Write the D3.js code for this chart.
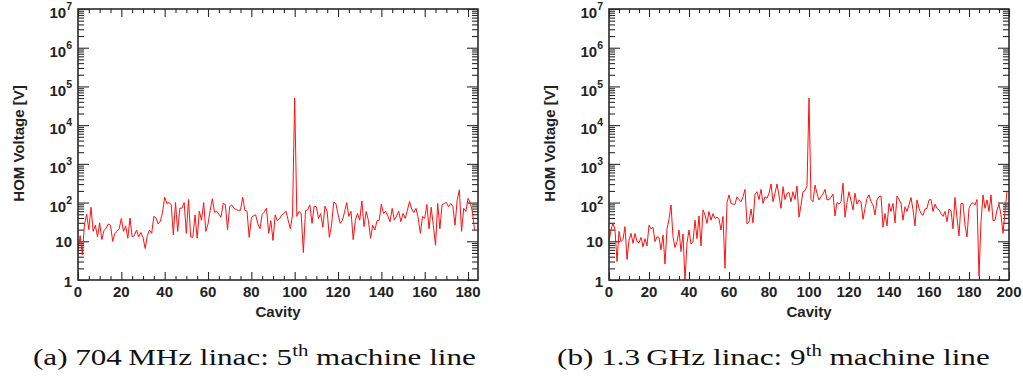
<!DOCTYPE html>
<html><head><meta charset="utf-8">
<script src="https://cdn.jsdelivr.net/npm/d3@7/dist/d3.min.js"></script>
<style>body{margin:0;background:#fff}svg{display:block}</style>
</head><body>
<svg id="chart" width="1023" height="381"></svg>
<script>
// HOM voltage [V] per cavity, 704 MHz linac (5th machine line), cavity index = array index
const voltage704 = [5.4,14,4.5,28,50,20,76,18,26,13,30,11,19,22,28,26,10,16,18,21,
39,18,25,12,40,13,14,19.5,13,17,12.6,6.5,14,19.5,16,44,40,28,33,56,
138,95,100,89,14.5,100,18,71,72,100,16,120,13,12.6,48,12,60,35,100,18,
28,63,126,56,60,50,42,95,89,20,79,87,71,66,63,63,138,63,60,12.6,
40,46,48,28,21,50,57,71,16,34,10.5,48,34,38,48,52,60,35,21,48,
50000,44,59,52,5.1,62,65,87,29,81,78,39,52,23,81,59,12.6,26,102,95,
50,29,35,56,100,44,59,11,35,52,35,110,24,59,35,12,26,19.5,34,35,
91,52,59,45,32,71,35,44,60,32,52,39,63,107,68,55,71,40,16,44,
39,89,21,76,25,7.9,95,21,87,95,100,78,95,79,26,117,214,18,71,59,
129,100,59,19.5];
// HOM voltage [V] per cavity, 1.3 GHz linac (9th machine line)
const voltage1300 = [9.8,19.5,30,19.5,3.0,18,9.8,11.2,24,3.4,10.7,16,8.9,16,9.8,9.1,12.6,7.2,11.7,7.6,
26,21,23,9.8,13,12.6,6,14.5,2.6,21,37,87,13,6.9,9.8,19.5,5.4,15.5,0.95,9.1,
19.5,8.5,9.8,35,11.7,45,7.6,65,48,29,59,35,52,39,42,37,19.5,44,2.0,100,
158,95,91,91,141,120,105,141,219,28,32,68,30,166,191,120,219,95,141,129,
174,302,105,174,302,148,71,257,120,174,182,105,191,120,269,42,87,191,204,269,
50000,120,105,282,174,117,141,166,219,117,120,135,166,45,100,91,105,316,42,100,
191,112,65,174,91,117,105,37,71,129,158,105,87,48,117,141,148,23,52,25,
95,59,95,30,148,120,95,35,78,59,87,135,65,25,117,71,52,47,68,71,
117,120,59,91,71,65,52,44,59,32,68,62,21,135,39,13.8,95,95,26,13,
71,91,100,87,120,1.26,32,158,71,117,59,158,34,35,65,91,48,16,59,195];

const xTickLabels704 = [0,20,40,60,80,100,120,140,160,180];
const xTickLabels1300 = [0,20,40,60,80,100,120,140,160,180,200];
const yTickExponents = [0,1,2,3,4,5,6,7];
const yAxisTitle = "HOM Voltage [V]";
const xAxisTitle = "Cavity";
const captionParts = [
  ["(a) 704\u2009MHz linac: 5", "th", " machine line"],
  ["(b) 1.3\u2009GHz linac: 9", "th", " machine line"]
];

const svg = d3.select("#chart");
const TOP = 9, BOTTOM = 280;
const FONT = "'Liberation Sans', Arial, Helvetica, sans-serif";
const AX = "#2a2a2a";

const panels = [
  {x0: 78, x1: 478, xMax: 184.6, data: voltage704, ticks: xTickLabels704, cap: captionParts[0], capX: 33, capW: 443},
  {x0: 609, x1: 1009, xMax: 200, data: voltage1300, ticks: xTickLabels1300, cap: captionParts[1], capX: 557, capW: 433}
];

const y = d3.scaleLog().domain([1, 1e7]).range([BOTTOM, TOP]);
const yMajor = yTickExponents.map(k => Math.pow(10, k));
const yMinor = [];
yTickExponents.slice(0, -1).forEach(k => { for (let m = 2; m <= 9; m++) yMinor.push(m * Math.pow(10, k)); });

panels.forEach((p, pi) => {
  const g = svg.append("g");
  const x = d3.scaleLinear().domain([0, p.xMax]).range([p.x0, p.x1]);
  const xMinor = d3.range(0, p.xMax, 5).filter(v => v % 20 !== 0);

  const styleAxis = sel => {
    sel.select(".domain").remove();
    sel.selectAll("line").attr("stroke", AX).attr("stroke-width", 1.1);
  };
  // y axes (ticks pointing inward)
  g.append("g").attr("transform", `translate(${p.x0},0)`).call(d3.axisRight(y).tickValues(yMajor).tickSize(11).tickFormat("")).call(styleAxis);
  g.append("g").attr("transform", `translate(${p.x0},0)`).call(d3.axisRight(y).tickValues(yMinor).tickSize(6).tickFormat("")).call(styleAxis);
  g.append("g").attr("transform", `translate(${p.x1},0)`).call(d3.axisLeft(y).tickValues(yMajor).tickSize(11).tickFormat("")).call(styleAxis);
  g.append("g").attr("transform", `translate(${p.x1},0)`).call(d3.axisLeft(y).tickValues(yMinor).tickSize(6).tickFormat("")).call(styleAxis);
  // x axes
  g.append("g").attr("transform", `translate(0,${BOTTOM})`).call(d3.axisTop(x).tickValues(p.ticks).tickSize(8).tickFormat("")).call(styleAxis);
  g.append("g").attr("transform", `translate(0,${BOTTOM})`).call(d3.axisTop(x).tickValues(xMinor).tickSize(4).tickFormat("")).call(styleAxis);
  g.append("g").attr("transform", `translate(0,${TOP})`).call(d3.axisBottom(x).tickValues(p.ticks).tickSize(8).tickFormat("")).call(styleAxis);
  g.append("g").attr("transform", `translate(0,${TOP})`).call(d3.axisBottom(x).tickValues(xMinor).tickSize(4).tickFormat("")).call(styleAxis);

  // data line
  const clipId = "clip" + pi;
  svg.append("clipPath").attr("id", clipId).append("rect")
    .attr("x", p.x0).attr("y", TOP).attr("width", p.x1 - p.x0).attr("height", BOTTOM - TOP);
  const line = d3.line().x((d, i) => x(i)).y(d => y(d));
  g.append("path").datum(p.data).attr("d", line).attr("fill", "none")
    .attr("stroke", "#ff1010").attr("stroke-width", 1).attr("stroke-linejoin", "miter")
    .attr("clip-path", `url(#${clipId})`);

  // frame
  g.append("rect").attr("x", p.x0).attr("y", TOP).attr("width", p.x1 - p.x0).attr("height", BOTTOM - TOP)
    .attr("fill", "none").attr("stroke", AX).attr("stroke-width", 1.6);

  // y tick labels
  yTickExponents.forEach(k => {
    const t = g.append("text").attr("x", p.x0 - 6).attr("text-anchor", "end")
      .attr("font-family", FONT).attr("font-weight", "bold").attr("font-size", 15).attr("fill", "#222");
    if (k === 0) { t.attr("y", y(1) + 7).text("1"); }
    else if (k === 1) { t.attr("y", y(10) + 5.5).text("10"); }
    else {
      t.attr("y", y(Math.pow(10, k)) + 9.3);
      t.append("tspan").text("10");
      t.append("tspan").attr("dy", -8).attr("font-size", 10.5).text(String(k));
    }
  });
  // x tick labels
  g.selectAll(".xl").data(p.ticks).join("text").attr("class", "xl")
    .attr("x", d => x(d)).attr("y", 297).attr("text-anchor", "middle")
    .attr("font-family", FONT).attr("font-weight", "bold").attr("font-size", 15).attr("fill", "#222")
    .text(d => d);
  // axis titles
  g.append("text").attr("x", (p.x0 + p.x1) / 2).attr("y", 317).attr("text-anchor", "middle")
    .attr("font-family", FONT).attr("font-weight", "bold").attr("font-size", 15).attr("fill", "#222")
    .text(xAxisTitle);
  g.append("text").attr("transform", `translate(${p.x0 - 54},${(TOP + BOTTOM) / 2 - 1}) rotate(-90)`)
    .attr("text-anchor", "middle")
    .attr("font-family", FONT).attr("font-weight", "bold").attr("font-size", 15).attr("fill", "#222")
    .text(yAxisTitle);

  // caption
  const cg = svg.append("g");
  const ct = cg.append("text").attr("x", 0).attr("y", 0)
    .attr("font-family", "'Liberation Serif', 'Times New Roman', serif").attr("font-size", 24).attr("fill", "#111");
  ct.append("tspan").text(p.cap[0]);
  ct.append("tspan").attr("dy", -9).attr("font-size", 16).text(p.cap[1]);
  ct.append("tspan").attr("dy", 9).text(p.cap[2]);
  const bw = ct.node().getBBox().width;
  cg.attr("transform", `translate(${p.capX},365) scale(${p.capW / bw},1)`);
});
</script>
</body></html>
